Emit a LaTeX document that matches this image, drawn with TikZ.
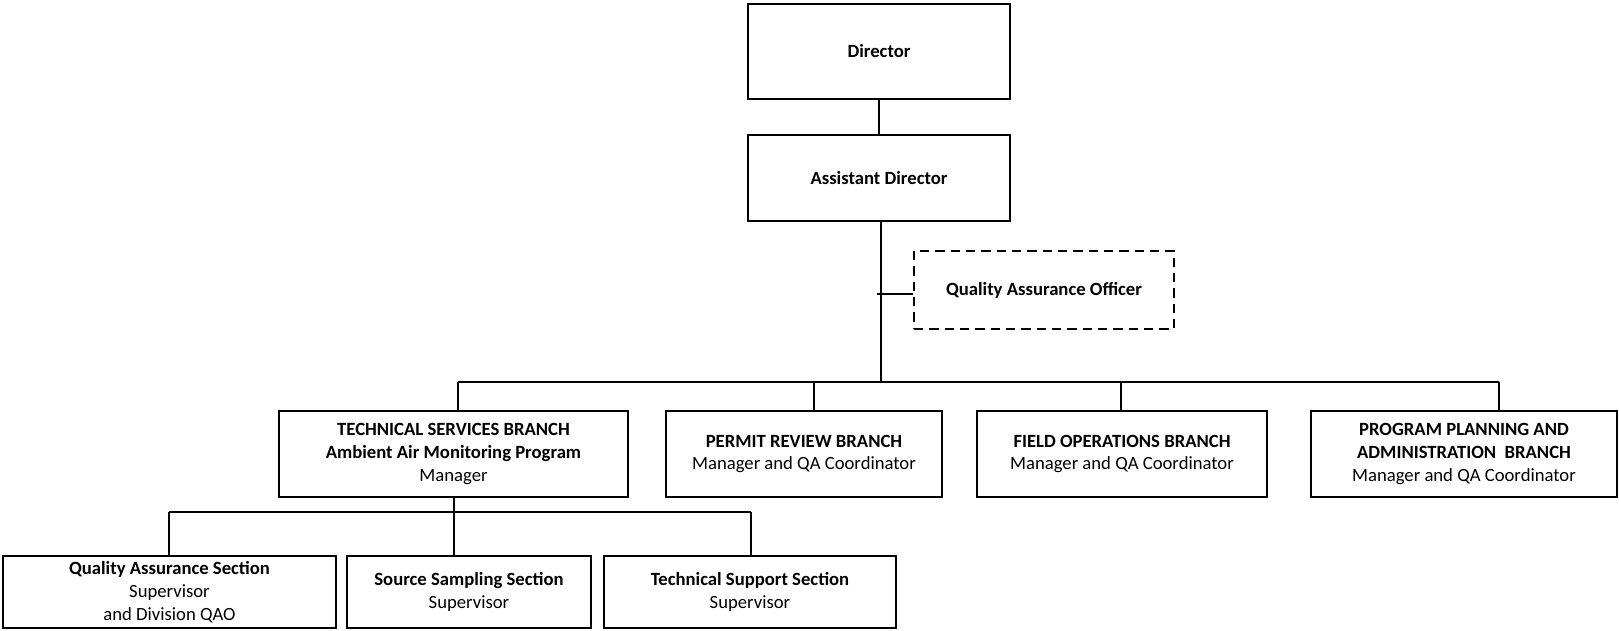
\documentclass[tikz,border=0pt]{standalone}
\usepackage{fontspec}
\setmainfont{Carlito}
\begin{document}
\begin{tikzpicture}[x=0.75pt,y=-0.75pt,
  orgbox/.style={draw=black,line width=1.6pt,align=center,inner sep=0pt,
    font=\fontsize{14}{17}\selectfont},
  dashbox/.style={orgbox,dash pattern=on 7pt off 4.5pt},
  conn/.style={line width=1.5pt}]
\useasboundingbox (0,0) rectangle (1619,631);
\node[orgbox,minimum width=196.5pt,minimum height=71.25pt] (dir) at (879,51.5) {\textbf{Director}};
\node[orgbox,minimum width=196.5pt,minimum height=64.5pt] (ad) at (879,178) {\textbf{Assistant Director}};
\node[dashbox,minimum width=195pt,minimum height=58.5pt] (qao) at (1044,290) {\textbf{Quality Assurance Officer}};
\node[orgbox,minimum width=261.75pt,minimum height=64.5pt] (ts) at (453.5,454) {\textbf{TECHNICAL SERVICES BRANCH}\\\textbf{Ambient Air Monitoring Program}\\Manager};
\node[orgbox,minimum width=207pt,minimum height=64.5pt] (pr) at (804,454) {\textbf{PERMIT REVIEW BRANCH}\\Manager and QA Coordinator};
\node[orgbox,minimum width=217.5pt,minimum height=64.5pt] (fo) at (1122,454) {\textbf{FIELD OPERATIONS BRANCH}\\Manager and QA Coordinator};
\node[orgbox,minimum width=229.5pt,minimum height=64.5pt] (ppa) at (1464,454) {\textbf{PROGRAM PLANNING AND}\\\textbf{ADMINISTRATION\ \ BRANCH}\\Manager and QA Coordinator};
\node[orgbox,minimum width=249.75pt,minimum height=54pt] (qas) at (169.5,592) {\textbf{Quality Assurance Section}\\Supervisor\\and Division QAO};
\node[orgbox,minimum width=183pt,minimum height=54pt] (ss) at (469,592) {\textbf{Source Sampling Section}\\Supervisor};
\node[orgbox,minimum width=219pt,minimum height=54pt] (tsup) at (750,592) {\textbf{Technical Support Section}\\Supervisor};
% coordinates
\coordinate (trunk) at (881,382);
\coordinate (qaoj) at (881,294);
\coordinate (b1) at (458,382);
\coordinate (b2) at (814,382);
\coordinate (b3) at (1121,382);
\coordinate (b4) at (1499,382);
\coordinate (tsd) at (454,512);
\coordinate (l1) at (169,512);
\coordinate (l3) at (751,512);
% connectors
\draw[conn] (dir.south) -- (ad.north);
\draw[conn] (ad.south -| trunk) -- (trunk);
\draw[conn] ([xshift=-3pt]qaoj) -- (qaoj -| qao.west);
\draw[conn] (b1) -- (b4);
\draw[conn] (b1) -- (b1 |- ts.north);
\draw[conn] (b2) -- (b2 |- pr.north);
\draw[conn] (b3) -- (b3 |- fo.north);
\draw[conn] (b4) -- (b4 |- ppa.north);
\draw[conn] (tsd |- ts.south) -- (tsd);
\draw[conn] (l1) -- (l3);
\draw[conn] (l1) -- (l1 |- qas.north);
\draw[conn] (tsd) -- (tsd |- ss.north);
\draw[conn] (l3) -- (l3 |- tsup.north);
\end{tikzpicture}
\end{document}
